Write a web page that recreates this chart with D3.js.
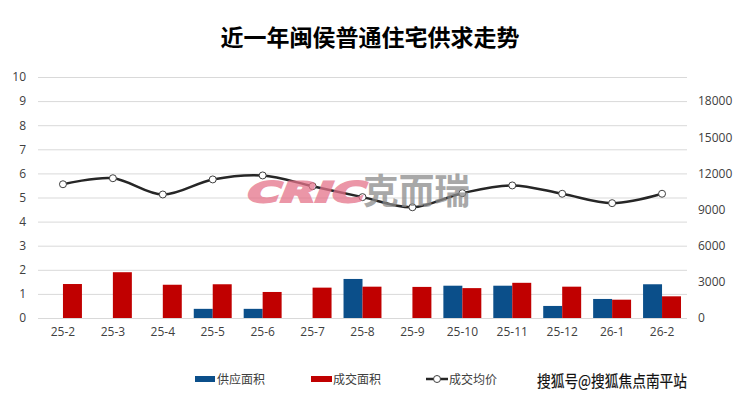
<!DOCTYPE html>
<html><head><meta charset="utf-8">
<script src="https://cdn.jsdelivr.net/npm/d3@7/dist/d3.min.js"></script>
<style>
html,body{margin:0;padding:0;background:#fff;}
svg{display:block;font-family:"Open Sans","Noto Sans CJK SC",sans-serif;}
</style></head>
<body><svg id="c" width="740" height="399"></svg>
<script>
const categories = ["25-2","25-3","25-4","25-5","25-6","25-7","25-8","25-9","25-10","25-11","25-12","26-1","26-2"];
const supplyArea = [0,0,0,0.38,0.38,0,1.62,0,1.34,1.34,0.5,0.79,1.40];
const dealArea   = [1.41,1.90,1.38,1.40,1.08,1.26,1.30,1.29,1.24,1.46,1.30,0.76,0.90];
const avgPrice   = [11100,11600,10250,11500,11830,10940,10030,9190,10360,11000,10310,9530,10310];
const leftTicks  = [0,1,2,3,4,5,6,7,8,9,10];
const rightTicks = [0,3000,6000,9000,12000,15000,18000];
const seriesNames = ["供应面积","成交面积","成交均价"];
const titleText = "近一年闽侯普通住宅供求走势";

const svg = d3.select("#c");
const L = 38, R = 687, T = 77, B = 318;
const x = d3.scaleBand().domain(categories).range([L,R]).paddingInner(0.24).paddingOuter(0.12);
const xc = d3.scaleBand().domain(categories).range([L,R]);
const yL = d3.scaleLinear().domain([0,10]).range([B,T]);
const yR = d3.scaleLinear().domain([0,20000]).range([B,T]);
const blue = "#0B4F8A", red = "#C00000", txt = "#404040";

svg.append("text").attr("x",370).attr("y",46).attr("text-anchor","middle")
  .attr("font-family","'Noto Sans CJK SC'").attr("font-weight","bold").attr("font-size",23)
  .attr("fill","#000").text(titleText);

// grid
svg.append("g").selectAll("line").data(leftTicks).join("line")
  .attr("x1",L).attr("x2",R).attr("y1",d=>yL(d)+0.5).attr("y2",d=>yL(d)+0.5)
  .attr("stroke","#d9d9d9").attr("stroke-width",1);

// left axis
const la = svg.append("g").attr("transform",`translate(${L-12},0)`)
  .call(d3.axisLeft(yL).tickValues(leftTicks).tickSize(0).tickPadding(0));
la.select(".domain").remove();
la.selectAll("text").attr("font-size",12).attr("fill",txt).attr("font-family","'Open Sans'");

// right axis
const ra = svg.append("g").attr("transform",`translate(${R+11},0)`)
  .call(d3.axisRight(yR).tickValues(rightTicks).tickSize(0).tickPadding(0).tickFormat(d3.format("d")));
ra.select(".domain").remove();
ra.selectAll("text").attr("font-size",12).attr("fill",txt).attr("font-family","'Open Sans'");

// x axis
const xa = svg.append("g").attr("transform",`translate(0,${B+9})`)
  .call(d3.axisBottom(xc).tickSize(0).tickPadding(0));
xa.select(".domain").remove();
xa.selectAll("text").attr("font-size",12).attr("fill",txt).attr("font-family","'Open Sans'").attr("dy","0.71em");

const bw = x.bandwidth()/2;
svg.append("g").selectAll("rect").data(categories).join("rect")
  .attr("x",d=>x(d)).attr("width",bw)
  .attr("y",(d,i)=>yL(supplyArea[i])).attr("height",(d,i)=>B-yL(supplyArea[i]))
  .attr("fill",blue);
svg.append("g").selectAll("rect").data(categories).join("rect")
  .attr("x",d=>x(d)+bw).attr("width",bw)
  .attr("y",(d,i)=>yL(dealArea[i])).attr("height",(d,i)=>B-yL(dealArea[i]))
  .attr("fill",red);

const cx = d => xc(d)+xc.bandwidth()/2;
const line = d3.line().x((d,i)=>cx(categories[i])).y(d=>yR(d)).curve(d3.curveCatmullRom.alpha(0.5));
svg.append("path").datum(avgPrice).attr("d",line).attr("fill","none")
  .attr("stroke","#262626").attr("stroke-width",2.5);
svg.append("g").selectAll("circle").data(avgPrice).join("circle")
  .attr("cx",(d,i)=>cx(categories[i])).attr("cy",d=>yR(d)).attr("r",3.5)
  .attr("fill","#fff").attr("stroke","#404040").attr("stroke-width",1);

// watermark
const wm = svg.append("g").attr("opacity",0.75);
wm.append("text").attr("transform","translate(244,202) skewX(-22)")
  .attr("font-family","'DejaVu Sans'").attr("font-weight","bold").attr("font-size",28)
  .attr("textLength",118).attr("lengthAdjust","spacingAndGlyphs")
  .attr("fill","#E5738A").attr("stroke","#E5738A").attr("stroke-width",2.2).text("CRIC");
wm.append("text").attr("x",363).attr("y",204).attr("font-family","'Noto Sans CJK SC'")
  .attr("font-weight","bold").attr("font-size",35).attr("textLength",107).attr("lengthAdjust","spacingAndGlyphs")
  .attr("fill","#8c8c8c").text("克而瑞");

// legend
const lg = svg.append("g").attr("font-family","'Noto Sans CJK SC'").attr("font-size",12).attr("fill",txt);
lg.append("rect").attr("x",195).attr("y",376).attr("width",20).attr("height",6).attr("fill",blue);
lg.append("text").attr("x",217).attr("y",384).text(seriesNames[0]);
lg.append("rect").attr("x",311).attr("y",376).attr("width",21).attr("height",6).attr("fill",red);
lg.append("text").attr("x",333).attr("y",384).text(seriesNames[1]);
lg.append("line").attr("x1",426).attr("x2",448).attr("y1",379).attr("y2",379).attr("stroke","#262626").attr("stroke-width",2.5);
lg.append("circle").attr("cx",437).attr("cy",379).attr("r",3.5).attr("fill","#fff").attr("stroke","#404040");
lg.append("text").attr("x",449).attr("y",384).text(seriesNames[2]);

svg.append("text").attr("x",537).attr("y",387).attr("font-family","'Noto Sans CJK SC'")
  .attr("font-size",16).attr("fill","#111").attr("stroke","#111").attr("stroke-width",0.2)
  .attr("textLength",150).attr("lengthAdjust","spacingAndGlyphs").text("搜狐号@搜狐焦点南平站");
</script></body></html>
